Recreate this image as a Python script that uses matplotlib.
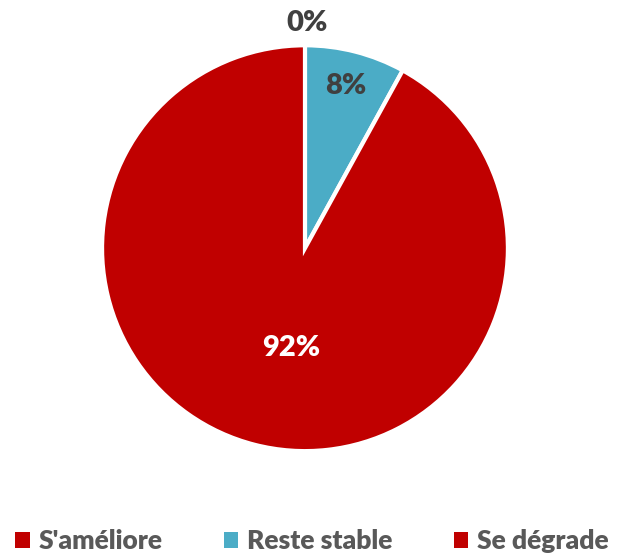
import matplotlib.pyplot as plt
from matplotlib.patches import Patch

labels = ["S'améliore", "Reste stable", "Se dégrade"]
values = [0, 8, 92]
colors = ["#C00000", "#4BACC6", "#C00000"]

plt.rcParams['font.family'] = ['Lato', 'DejaVu Sans']

fig = plt.figure(figsize=(6.18, 5.59), dpi=100)
ax = fig.add_axes([0.165, 0.193, 0.657, 0.726])

wedges, texts, autotexts = ax.pie(values, colors=colors, startangle=90, counterclock=False,
                                  autopct='%1.0f%%', pctdistance=0.82,
                                  wedgeprops=dict(edgecolor='white', linewidth=3),
                                  textprops=dict(fontsize=21, fontweight='heavy', color='#404040'))
ax.set_xlim(-1, 1)
ax.set_ylim(-1, 1)
ax.set_aspect('equal')

# move labels to where they sit in the original
autotexts[0].set_position((0.01, 1.11))
autotexts[1].set_position((0.2, 0.8))
autotexts[2].set_position((-0.07, -0.49))
autotexts[2].set_color('white')
for t in autotexts:
    t.set_clip_on(False)

handles = [Patch(facecolor=c) for c in colors]
fig.legend(handles, labels, loc='lower center', ncol=3, frameon=False,
           bbox_to_anchor=(0.505, -0.032), handlelength=0.55, handleheight=0.55,
           handletextpad=0.35, columnspacing=2.3,
           prop=dict(size=19, weight='heavy'), labelcolor='#595959')

fig.savefig('out.png', dpi=100)
